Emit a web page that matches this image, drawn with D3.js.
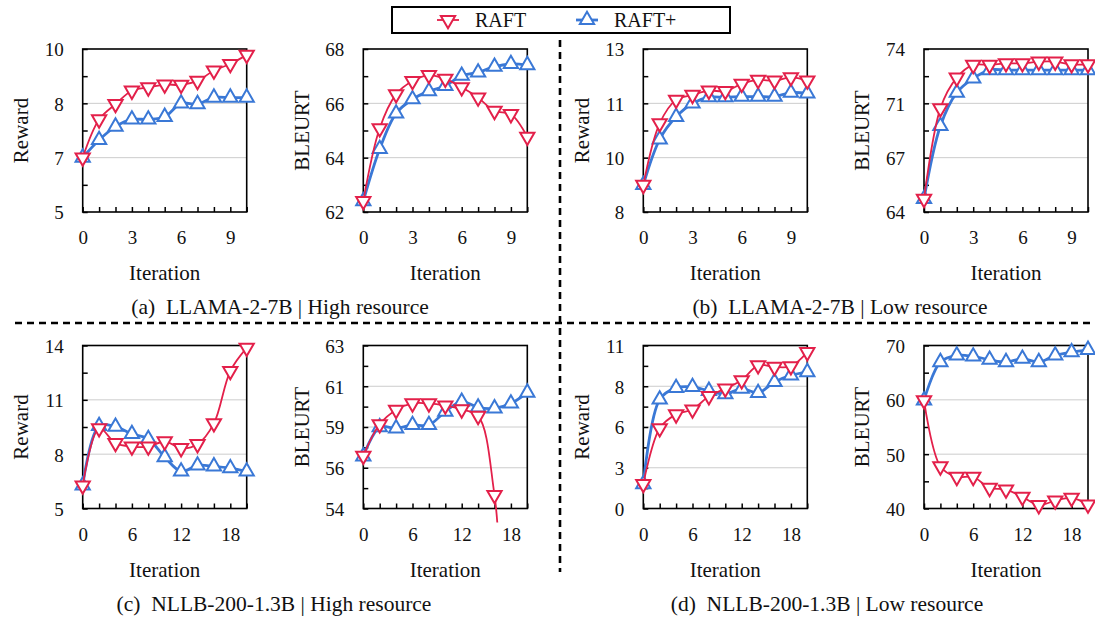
<!DOCTYPE html>
<html>
<head>
<meta charset="utf-8">
<script src="https://cdn.jsdelivr.net/npm/d3@7/dist/d3.min.js"></script>
<style>
  body { margin: 0; background: #fff; }
  svg text { font-family: "Liberation Serif", "Times New Roman", serif; fill: #111; }
</style>
</head>
<body>
<script>
// iterations on the x axis
var itersShort = d3.range(0, 11);        // 0..10
var itersLong = d3.range(0, 21, 2);      // 0..20 step 2

// (a) LLAMA-2-7B | High resource
var rewardA_raft     = [6.67, 7.84, 8.31, 8.72, 8.82, 8.91, 8.90, 9.02, 9.34, 9.54, 9.82];
var rewardA_raftPlus = [6.67, 7.21, 7.62, 7.84, 7.84, 7.92, 8.33, 8.31, 8.51, 8.51, 8.51];
var bleurtA_raft     = [62.4, 65.08, 66.33, 66.82, 67.04, 66.9, 66.59, 66.21, 65.72, 65.6, 64.77];
var bleurtA_raftPlus = [62.4, 64.32, 65.63, 66.15, 66.45, 66.64, 67.02, 67.14, 67.35, 67.45, 67.41];

// (b) LLAMA-2-7B | Low resource
var rewardB_raft     = [8.83, 10.72, 11.44, 11.59, 11.72, 11.71, 11.93, 12.05, 12.03, 12.13, 12.03];
var rewardB_raftPlus = [8.83, 10.23, 10.92, 11.33, 11.52, 11.52, 11.54, 11.54, 11.54, 11.66, 11.64];
var bleurtB_raft     = [64.8, 70.36, 72.24, 73.02, 73.02, 73.12, 73.12, 73.22, 73.22, 73.06, 73.06];
var bleurtB_raftPlus = [64.8, 69.28, 71.32, 72.2, 72.71, 72.71, 72.71, 72.71, 72.71, 72.71, 72.71];

// (c) NLLB-200-1.3B | High resource
var rewardC_raft     = [6.27, 9.43, 8.61, 8.42, 8.42, 8.70, 8.33, 8.55, 9.70, 12.59, 13.87];
var rewardC_raftPlus = [6.27, 9.56, 9.52, 9.12, 8.84, 7.84, 7.05, 7.38, 7.33, 7.23, 7.05];
// last two RAFT values fall below the axis (only the start of the drop is visible)
var bleurtC_raft     = [56.91, 58.65, 59.44, 59.8, 59.8, 59.68, 59.47, 59.11, 54.74, 44, 42];
var bleurtC_raftPlus = [56.88, 58.49, 58.43, 58.61, 58.61, 59.35, 59.9, 59.58, 59.53, 59.8, 60.4];

// (d) NLLB-200-1.3B | Low resource
var rewardD_raft     = [1.65, 5.41, 6.35, 6.68, 7.58, 8.09, 8.65, 9.66, 9.55, 9.60, 10.55];
var rewardD_raftPlus = [1.65, 7.36, 8.14, 8.2, 7.94, 7.72, 8.09, 7.8, 8.54, 8.99, 9.21];
var bleurtD_raft     = [59.9, 47.74, 45.8, 45.8, 43.78, 43.48, 42.13, 40.61, 41.46, 41.95, 40.73];
var bleurtD_raftPlus = [59.9, 66.95, 68.17, 67.99, 67.38, 66.95, 67.56, 66.95, 68.17, 68.78, 69.2];

// x tick labels
var xLabelsShort = [0, 3, 6, 9];
var xLabelsLong = [0, 6, 12, 18];

var seriesNames = ["RAFT", "RAFT+"];
var captions = [
  "(a)  LLAMA-2-7B | High resource",
  "(b)  LLAMA-2-7B | Low resource",
  "(c)  NLLB-200-1.3B | High resource",
  "(d)  NLLB-200-1.3B | Low resource"
];

var RED = "#e3204a", BLUE = "#3a78d6";

// y: [min, max, number of major divisions]
var panels = [
  { left: 82.7,  top: 49,    iters: itersShort, xLab: xLabelsShort, title: "Reward", y: [5, 10, 3],  s: [rewardA_raft, rewardA_raftPlus] },
  { left: 363.3, top: 49,    iters: itersShort, xLab: xLabelsShort, title: "BLEURT", y: [62, 68, 3], s: [bleurtA_raft, bleurtA_raftPlus] },
  { left: 643.3, top: 49,    iters: itersShort, xLab: xLabelsShort, title: "Reward", y: [8, 13, 3],  s: [rewardB_raft, rewardB_raftPlus] },
  { left: 924,   top: 49,    iters: itersShort, xLab: xLabelsShort, title: "BLEURT", y: [64, 74, 3], s: [bleurtB_raft, bleurtB_raftPlus] },
  { left: 82.7,  top: 345.5, iters: itersLong,  xLab: xLabelsLong,  title: "Reward", y: [5, 14, 3],  s: [rewardC_raft, rewardC_raftPlus] },
  { left: 363.3, top: 345.5, iters: itersLong,  xLab: xLabelsLong,  title: "BLEURT", y: [54, 63, 4], s: [bleurtC_raft, bleurtC_raftPlus] },
  { left: 643.3, top: 345.5, iters: itersLong,  xLab: xLabelsLong,  title: "Reward", y: [0, 11, 4],  s: [rewardD_raft, rewardD_raftPlus] },
  { left: 924,   top: 345.5, iters: itersLong,  xLab: xLabelsLong,  title: "BLEURT", y: [40, 70, 3], s: [bleurtD_raft, bleurtD_raftPlus] }
];

var width = 1095, height = 617, pw = 164, ph = 163;

var svg = d3.select("body").append("svg")
  .attr("width", width)
  .attr("height", height);

var tri = d3.symbol().type(d3.symbolTriangle).size(88);

panels.forEach(function (p, k) {
  var g = svg.append("g").attr("transform", "translate(" + p.left + "," + p.top + ")");
  var xMax = p.iters[p.iters.length - 1];
  var x = d3.scaleLinear().domain([0, xMax]).range([0, pw]);
  var y = d3.scaleLinear().domain([p.y[0], p.y[1]]).range([ph, 0]);

  var step = (p.y[1] - p.y[0]) / p.y[2];
  var major = d3.range(p.y[2] + 1).map(function (i) { return p.y[0] + i * step; });
  var minor = d3.range(p.y[2]).map(function (i) { return p.y[0] + (i + 0.5) * step; });

  // gridlines
  g.selectAll(".grid").data(major.slice(1, -1)).enter().append("line")
    .attr("x1", 0).attr("x2", pw)
    .attr("y1", function (d) { return y(d); }).attr("y2", function (d) { return y(d); })
    .attr("stroke", "#cccccc").attr("stroke-width", 1);

  // y axis (inside ticks), labels rounded like the original
  var yAxis = d3.axisLeft(y).tickValues(major).tickSize(-5).tickPadding(19)
    .tickFormat(function (d) { return Math.round(d); });
  var ya = g.append("g").call(yAxis);
  var yMinor = d3.axisLeft(y).tickValues(minor).tickSize(-5).tickFormat("");
  var ym = g.append("g").call(yMinor);

  // x axis
  var xAxis = d3.axisBottom(x).tickValues(p.iters).tickSize(-5).tickPadding(19)
    .tickFormat(function (d) { return p.xLab.indexOf(d) >= 0 ? d : ""; });
  var xa = g.append("g").attr("transform", "translate(0," + ph + ")").call(xAxis);

  [ya, ym, xa].forEach(function (a) {
    a.attr("font-family", null);
    a.select(".domain").remove();
    a.selectAll(".tick line").attr("stroke", "#000").attr("stroke-width", 1.5);
    a.selectAll(".tick text").style("font-size", "19px").attr("fill", "#111");
  });
  ya.selectAll(".tick text").attr("dy", "0.36em");

  // frame
  g.append("rect").attr("width", pw).attr("height", ph)
    .attr("fill", "none").attr("stroke", "#000").attr("stroke-width", 1.6);

  // axis titles
  g.append("text")
    .attr("transform", "translate(" + (-62) + "," + (ph / 2) + ") rotate(-90)")
    .attr("text-anchor", "middle").attr("dy", "0.35em")
    .style("font-size", "21px").text(p.title);
  g.append("text")
    .attr("x", pw / 2).attr("y", ph + 68)
    .attr("text-anchor", "middle")
    .style("font-size", "21px").text("Iteration");

  // clip for lines going below the axis
  var clipId = "clip" + k;
  g.append("clipPath").attr("id", clipId).append("rect")
    .attr("x", -10).attr("y", -20).attr("width", pw + 20).attr("height", ph + 34);

  // series: blue first, red on top
  [1, 0].forEach(function (si) {
    var vals = p.s[si];
    var pts = p.iters.map(function (it, i) { return [it, vals[i]]; });
    var col = si === 0 ? RED : BLUE;
    var line = d3.line()
      .x(function (d) { return x(d[0]); })
      .y(function (d) { return y(d[1]); })
      .curve(d3.curveCatmullRom.alpha(0.5));
    g.append("path").datum(pts)
      .attr("clip-path", "url(#" + clipId + ")")
      .attr("fill", "none").attr("stroke", col)
      .attr("stroke-width", si === 0 ? 1.8 : 2.8)
      .attr("d", line);
    g.selectAll(".m" + si).data(pts.filter(function (d) { return d[1] >= p.y[0] && d[1] <= p.y[1]; }))
      .enter().append("path")
      .attr("transform", function (d) {
        return "translate(" + x(d[0]) + "," + y(d[1]) + ")" + (si === 0 ? " rotate(180)" : "");
      })
      .attr("d", tri)
      .attr("fill", "#fff").attr("stroke", col).attr("stroke-width", 2);
  });
});

// captions
var capPos = [[280, 314], [840, 314], [274, 611], [827, 611]];
captions.forEach(function (c, i) {
  svg.append("text").attr("x", capPos[i][0]).attr("y", capPos[i][1])
    .attr("text-anchor", "middle").style("white-space", "pre")
    .style("font-size", "21.5px").text(c);
});

// dashed dividers
svg.append("line").attr("x1", 15).attr("x2", 1095).attr("y1", 323).attr("y2", 323)
  .attr("stroke", "#000").attr("stroke-width", 2.6).attr("stroke-dasharray", "7,5");
svg.append("line").attr("x1", 560).attr("x2", 560).attr("y1", 40).attr("y2", 572)
  .attr("stroke", "#000").attr("stroke-width", 2.6).attr("stroke-dasharray", "7,5");

// legend
var legend = svg.append("g");
legend.append("rect").attr("x", 392).attr("y", 7).attr("width", 338).attr("height", 26)
  .attr("fill", "#fff").attr("stroke", "#000").attr("stroke-width", 2);
var legX = [448, 587];
seriesNames.forEach(function (name, i) {
  var col = i === 0 ? RED : BLUE;
  legend.append("line").attr("x1", legX[i] - 11).attr("x2", legX[i] + 11)
    .attr("y1", 20).attr("y2", 20).attr("stroke", col).attr("stroke-width", i === 0 ? 1.8 : 2.8);
  legend.append("path")
    .attr("transform", "translate(" + legX[i] + ",20)" + (i === 0 ? " rotate(180)" : ""))
    .attr("d", tri).attr("fill", "#fff").attr("stroke", col).attr("stroke-width", 2);
  legend.append("text").attr("x", legX[i] + 27).attr("y", 27)
    .style("font-size", "20px").text(name);
});
</script>
</body>
</html>
